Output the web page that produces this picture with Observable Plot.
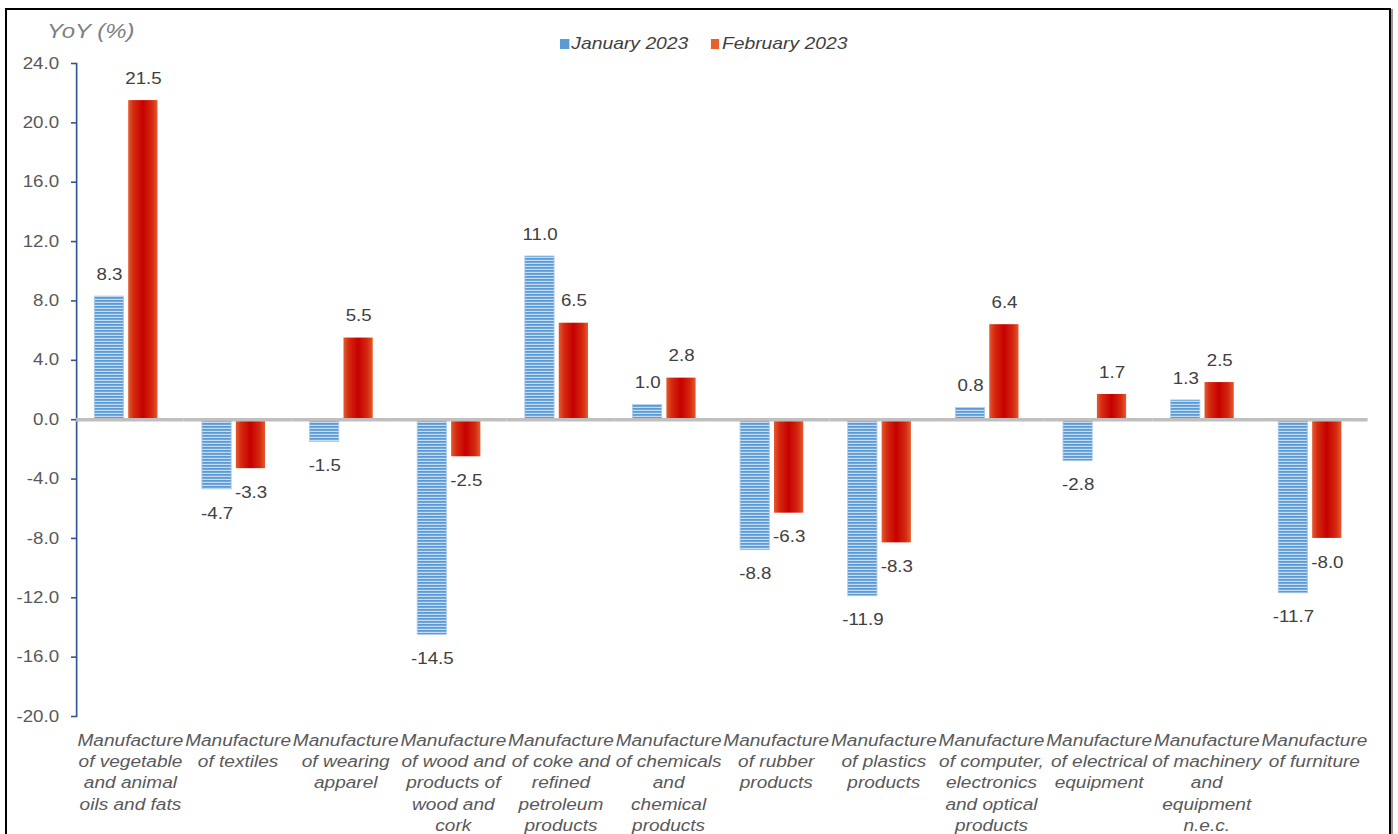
<!DOCTYPE html>
<html>
<head>
<meta charset="utf-8">
<script src="https://cdn.jsdelivr.net/npm/d3@7"></script>
<script src="https://cdn.jsdelivr.net/npm/@observablehq/plot@0.6"></script>
<style>
  html, body { margin: 0; padding: 0; background: #fff; overflow: hidden; }
  body { width: 1398px; height: 834px; position: relative; font-family: "Liberation Sans", Arial, sans-serif; }
  #frame { position: absolute; left: 5px; top: 8px; width: 1382px; height: 840px; border: 2px solid #000; box-shadow: 2px 1px 0 #9a9a9a; }
  #chart { position: absolute; left: 0; top: 0; }
  #chart svg { transform: scaleX(1.1699); transform-origin: 0 0; display: block; }
  #yoy { position: absolute; left: 47px; top: 19px; font-style: italic; font-size: 20.5px; color: #7f7f7f; transform: scaleX(1.17); transform-origin: 0 0; white-space: nowrap; }
  #legend { position: absolute; left: 560px; top: 34px; font-style: italic; font-size: 16.5px; color: #404040; display: flex; gap: 19px; transform: scaleX(1.17); transform-origin: 0 0; white-space: nowrap; }
  #legend span.item { display: inline-flex; align-items: center; }
  #legend span.sw { display: inline-block; width: 7.7px; height: 10px; margin-right: 2px; }
</style>
</head>
<body>
<div id="frame"></div>
<div id="chart"></div>
<div id="yoy">YoY (%)</div>
<div id="legend"></div>
<script>
const categories = [
  "Vegetable and animal oils and fats", "Textiles", "Wearing apparel", "Wood and cork",
  "Coke and refined petroleum", "Chemicals", "Rubber", "Plastics",
  "Computer and electronics", "Electrical equipment", "Machinery n.e.c.", "Furniture"
];
const tickLabels = [
  "Manufacture\nof vegetable\nand animal\noils and fats",
  "Manufacture\nof textiles",
  "Manufacture\nof wearing\napparel",
  "Manufacture\nof wood and\nproducts of\nwood and\ncork",
  "Manufacture\nof coke and\nrefined\npetroleum\nproducts",
  "Manufacture\nof chemicals\nand\nchemical\nproducts",
  "Manufacture\nof rubber\nproducts",
  "Manufacture\nof plastics\nproducts",
  "Manufacture\nof computer,\nelectronics\nand optical\nproducts",
  "Manufacture\nof electrical\nequipment",
  "Manufacture\nof machinery\nand\nequipment\nn.e.c.",
  "Manufacture\nof furniture"
];
const seriesNames = ["January 2023", "February 2023"];
const january = [8.3, -4.7, -1.5, -14.5, 11.0, 1.0, -8.8, -11.9, 0.8, -2.8, 1.3, -11.7];
const february = [21.5, -3.3, 5.5, -2.5, 6.5, 2.8, -6.3, -8.3, 6.4, 1.7, 2.5, -8.0];
const yTicks = [-20, -16, -12, -8, -4, 0, 4, 8, 12, 16, 20, 24];

const rows = categories.flatMap((c, i) => [
  {category: c, series: seriesNames[0], value: january[i]},
  {category: c, series: seriesNames[1], value: february[i]}
]);
const janRows = rows.filter(d => d.series === seriesNames[0]);
const febRows = rows.filter(d => d.series === seriesNames[1]);
const labelOf = new Map(categories.map((c, i) => [c, tickLabels[i]]));

const axisBlue = "#2f5597";
const labelGray = "#404040";

const chart = Plot.plot({
  width: 1195,
  height: 834,
  marginLeft: 62.4,
  marginRight: 23.1,
  marginTop: 63,
  marginBottom: 118,
  style: {fontFamily: "'Liberation Sans', Arial, sans-serif", background: "transparent", overflow: "visible"},
  fx: {domain: categories, paddingInner: 0, paddingOuter: 0, axis: null},
  x: {domain: seriesNames, paddingInner: 0.15, paddingOuter: 0.66, align: 0.40, axis: null},
  y: {domain: [-20, 24], axis: null},
  marks: [
    Plot.frame({anchor: "left", facetAnchor: "left", stroke: axisBlue, strokeWidth: 1.4}),
    Plot.axisY({ticks: yTicks, tickSize: 4.3, tickFormat: () => "", label: null, stroke: axisBlue, strokeWidth: 1.6}),
    Plot.axisY({ticks: yTicks, tickSize: 0, tickPadding: 15, tickFormat: d => d.toFixed(1), label: null, fill: "#595959", fontSize: 16}),
    Plot.barY(janRows, {fx: "category", x: "series", y: "value", fill: "url(#janStripes)", stroke: "#a9cbec", strokeWidth: 0.7}),
    Plot.barY(febRows, {fx: "category", x: "series", y: "value", fill: "url(#febGrad)"}),
    Plot.ruleY([0], {stroke: "#bfbfbf", strokeWidth: 3.5}),
    Plot.text(rows.filter(d => d.value >= 0), {fx: "category", x: "series", y: "value", text: d => d.value.toFixed(1), dy: -22, fontSize: 16, fill: labelGray}),
    Plot.text(rows.filter(d => d.value < 0), {fx: "category", x: "series", y: "value", text: d => d.value.toFixed(1), dy: 24, fontSize: 16, fill: labelGray}),
    Plot.text(categories, {fx: d => d, text: d => labelOf.get(d), frameAnchor: "bottom", lineAnchor: "top", dy: 15, lineHeight: 1.29, fontSize: 16.3, fontStyle: "italic", fill: "#595959"})
  ]
});

d3.select(chart).insert("defs", ":first-child").html(`
  <pattern id="janStripes" width="8" height="3" patternUnits="userSpaceOnUse">
    <rect width="8" height="3" fill="#c6dcf2"></rect>
    <rect width="8" height="1.8" fill="#5b9bd5"></rect>
  </pattern>
  <linearGradient id="febGrad" x1="0" x2="1" y1="0" y2="0">
    <stop offset="0" stop-color="#e65a2e"></stop>
    <stop offset="0.18" stop-color="#d42a10"></stop>
    <stop offset="0.5" stop-color="#c60000"></stop>
    <stop offset="0.82" stop-color="#d42a10"></stop>
    <stop offset="1" stop-color="#e65a2e"></stop>
  </linearGradient>
`);
document.getElementById("chart").appendChild(chart);

const legendColors = ["#5b9bd5", "#e8612c"];
const legend = d3.select("#legend");
seriesNames.forEach((s, i) => {
  const item = legend.append("span").attr("class", "item");
  item.append("span").attr("class", "sw").style("background", legendColors[i]);
  item.append("span").text(s);
});
</script>
</body>
</html>
